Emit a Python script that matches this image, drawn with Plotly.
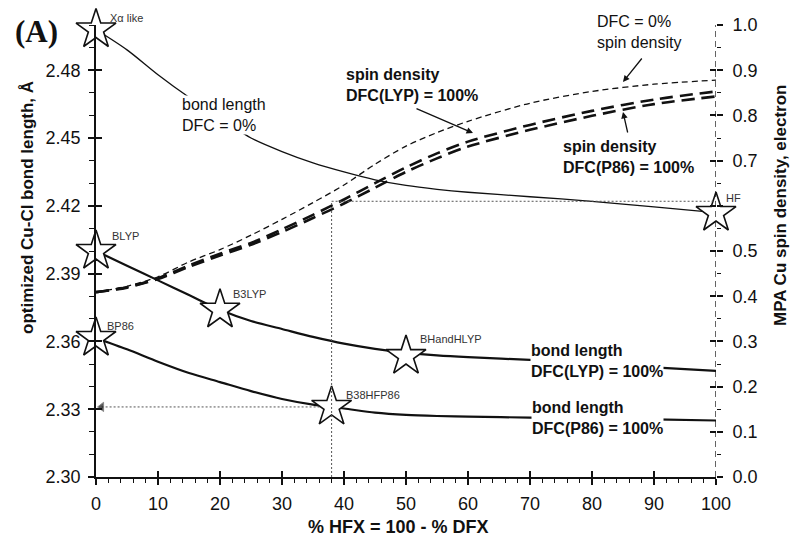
import plotly.graph_objects as go

# ---------------- data ----------------
hfx = [0, 5, 10, 15, 20, 25, 30, 35, 40, 45, 50, 55, 60, 70, 80, 90, 100]

bond_dfc0 = [2.498, 2.489, 2.478, 2.468, 2.459, 2.450, 2.444, 2.439, 2.435, 2.4315,
             2.429, 2.4273, 2.426, 2.424, 2.422, 2.4195, 2.417]
bond_lyp = [2.400, 2.3935, 2.387, 2.3805, 2.374, 2.369, 2.3655, 2.362, 2.359, 2.3567,
            2.355, 2.3538, 2.353, 2.3518, 2.350, 2.3485, 2.347]
bond_p86 = [2.3615, 2.3565, 2.351, 2.346, 2.342, 2.338, 2.3345, 2.332, 2.3303, 2.3285,
            2.3275, 2.327, 2.3267, 2.3263, 2.326, 2.3255, 2.325]

spin_dfc0 = [0.409, 0.422, 0.443, 0.476, 0.503, 0.535, 0.570, 0.607, 0.646, 0.692,
             0.732, 0.762, 0.787, 0.827, 0.853, 0.869, 0.878]
spin_lyp = [0.409, 0.420, 0.440, 0.468, 0.494, 0.518, 0.548, 0.580, 0.614, 0.650,
            0.685, 0.716, 0.742, 0.779, 0.810, 0.835, 0.853]
spin_p86 = [0.409, 0.419, 0.438, 0.465, 0.490, 0.514, 0.542, 0.573, 0.605, 0.640,
            0.675, 0.705, 0.731, 0.768, 0.799, 0.825, 0.842]

star_names = ["Xα like", "BLYP", "B3LYP", "BP86", "BHandHLYP", "B38HFP86", "HF"]
star_x = [0, 0, 20, 0, 50, 38, 100]
star_y = [2.498, 2.400, 2.374, 2.3615, 2.3535, 2.331, 2.4168]

guide_x = 38
guide_bond = 2.331
guide_spin = 0.61

left_ticks = [2.30, 2.33, 2.36, 2.39, 2.42, 2.45, 2.48]
right_ticks = [0.0, 0.1, 0.2, 0.3, 0.4, 0.5, 0.6, 0.7, 0.8, 0.9, 1.0]
right_ticktext = ["0.0", "0.1", "0.2", "0.3", "0.4", "0.5", "", "0.7", "0.8", "0.9", "1.0"]
x_ticks = [0, 10, 20, 30, 40, 50, 60, 70, 80, 90, 100]

# ---------------- figure ----------------
FONT = "Liberation Sans, Arial, sans-serif"
INK = "#111111"
L, R, T, B = 96, 77, 25, 61
PW, PH = 793 - L - R, 538 - T - B

fig = go.Figure()

# bond lengths (left axis)
fig.add_trace(go.Scatter(x=hfx, y=bond_dfc0, mode="lines", yaxis="y",
                         line=dict(color=INK, width=1.3, shape="spline", smoothing=0.8)))
fig.add_trace(go.Scatter(x=hfx, y=bond_lyp, mode="lines", yaxis="y",
                         line=dict(color=INK, width=2.2, shape="spline", smoothing=0.8)))
fig.add_trace(go.Scatter(x=hfx, y=bond_p86, mode="lines", yaxis="y",
                         line=dict(color=INK, width=2.2, shape="spline", smoothing=0.8)))

# spin densities (right axis)
fig.add_trace(go.Scatter(x=hfx, y=spin_dfc0, mode="lines", yaxis="y2",
                         line=dict(color=INK, width=1.3, dash="6px,4px", shape="spline", smoothing=0.8)))
fig.add_trace(go.Scatter(x=hfx, y=spin_lyp, mode="lines", yaxis="y2",
                         line=dict(color=INK, width=2.6, dash="13px,7px", shape="spline", smoothing=0.8)))
fig.add_trace(go.Scatter(x=hfx, y=spin_p86, mode="lines", yaxis="y2",
                         line=dict(color=INK, width=2.6, dash="13px,7px", shape="spline", smoothing=0.8)))

# dotted guide lines
fig.add_trace(go.Scatter(x=[guide_x, guide_x], y=[0, guide_spin], mode="lines", yaxis="y2",
                         line=dict(color="#555555", width=1, dash="2px,2px")))
fig.add_trace(go.Scatter(x=[guide_x, 100], y=[guide_spin, guide_spin], mode="lines", yaxis="y2",
                         line=dict(color="#555555", width=1, dash="2px,2px")))
fig.add_trace(go.Scatter(x=[guide_x, 0.9], y=[guide_bond, guide_bond], mode="lines+markers", yaxis="y",
                         line=dict(color="#555555", width=1, dash="2px,2px"),
                         marker=dict(symbol=["circle", "triangle-left"], size=[0, 8], color=INK),
                         cliponaxis=False))

# dashed right axis line
fig.add_trace(go.Scatter(x=[100, 100], y=[0, 1.0], mode="lines", yaxis="y2",
                         line=dict(color=INK, width=1.3, dash="6px,4px"), cliponaxis=False))

# stars
fig.add_trace(go.Scatter(x=star_x, y=star_y, mode="markers", yaxis="y",
                         marker=dict(symbol="star", size=30, color="white",
                                     line=dict(color=INK, width=1.6)),
                         cliponaxis=False))

# dummy traces for overlay tick axes (crossing ticks)
fig.add_trace(go.Scatter(x=[None], y=[None], xaxis="x2", yaxis="y", showlegend=False))
fig.add_trace(go.Scatter(x=[None], y=[None], xaxis="x", yaxis="y3", showlegend=False))
fig.add_trace(go.Scatter(x=[None], y=[None], xaxis="x", yaxis="y4", showlegend=False))

tickfont = dict(family=FONT, size=18, color=INK)

fig.update_layout(
    width=793, height=538,
    margin=dict(l=L, r=R, t=T, b=B),
    paper_bgcolor="white", plot_bgcolor="white",
    showlegend=False, hovermode=False,
    xaxis=dict(range=[0, 100], tickvals=x_ticks, ticks="outside", ticklen=6, tickwidth=1.5,
               tickcolor=INK, showline=True, linecolor=INK, linewidth=1.5, showgrid=False,
               zeroline=False, tickfont=tickfont, ticklabelstandoff=4,
               minor=dict(dtick=2, ticks="outside", ticklen=4, tickwidth=1, tickcolor=INK)),
    xaxis2=dict(range=[0, 100], overlaying="x", anchor="y", tickvals=x_ticks, ticks="inside",
                ticklen=6, tickwidth=1.5, tickcolor=INK, showticklabels=False, showgrid=False,
                zeroline=False, showline=False),
    yaxis=dict(range=[2.30, 2.50], tickvals=left_ticks, tickformat=".2f", ticks="outside",
               ticklen=6, tickwidth=1.5, tickcolor=INK, showline=True, linecolor=INK,
               linewidth=1.5, showgrid=False, zeroline=False, tickfont=tickfont,
               ticklabelstandoff=4,
               minor=dict(dtick=0.01, ticks="outside", ticklen=5, tickwidth=1, tickcolor=INK)),
    yaxis2=dict(range=[0, 1.0], overlaying="y", side="right", anchor="x", tickvals=right_ticks,
                ticktext=right_ticktext, ticks="outside", ticklen=6, tickwidth=1.5, tickcolor=INK,
                showline=False, showgrid=False, zeroline=False, tickfont=tickfont,
                ticklabelstandoff=6,
                minor=dict(dtick=0.05, ticks="outside", ticklen=4, tickwidth=1, tickcolor=INK)),
    yaxis3=dict(range=[2.30, 2.50], overlaying="y", side="left", anchor="x", tickvals=left_ticks,
                ticks="inside", ticklen=6, tickwidth=1.5, tickcolor=INK, showticklabels=False,
                showgrid=False, zeroline=False, showline=False),
    yaxis4=dict(range=[0, 1.0], overlaying="y", side="right", anchor="x", tickvals=right_ticks,
                ticks="inside", ticklen=6, tickwidth=1.5, tickcolor=INK, showticklabels=False,
                showgrid=False, zeroline=False, showline=False),
)


def px_x(px):
    return (px - L) / PW


def px_y(py):
    return (538 - B - py) / PH


ann = []
# star labels
star_offsets = {"Xα like": (12, 12), "BLYP": (14, 15), "B3LYP": (11, 16), "BP86": (9, 12),
                "BHandHLYP": (12, 17), "B38HFP86": (12, 12), "HF": (8, 15)}
for n, sx, sy in zip(star_names, star_x, star_y):
    dx, dy = star_offsets[n]
    ann.append(dict(x=sx, y=sy, xref="x", yref="y", text=n, showarrow=False,
                    xanchor="left", yanchor="middle", xshift=dx, yshift=dy,
                    font=dict(family=FONT, size=11, color="#333333")))


def label(px, py, txt, bold=False, bg=None):
    t = "<b>" + txt + "</b>" if bold else txt
    d = dict(x=px_x(px), y=px_y(py), xref="paper", yref="paper", text=t,
             showarrow=False, xanchor="left", yanchor="middle", align="left",
             font=dict(family=FONT, size=16, color=INK), borderpad=0)
    if bg:
        d["bgcolor"] = bg
    return d


ann.append(label(181, 115, "bond length<br>DFC = 0%", bg="white"))
ann.append(label(345, 85, "spin density<br>DFC(LYP) = 100%", bold=True))
ann.append(label(596, 32, "DFC = 0%<br>spin density"))
ann.append(label(562, 157, "spin density<br>DFC(P86) = 100%", bold=True))
ann.append(label(530, 361, "bond length<br>DFC(LYP) = 100%", bold=True, bg="white"))
ann.append(label(531, 418, "bond length<br>DFC(P86) = 100%", bold=True, bg="white"))


def arrow(hx, hy, tx, ty):
    return dict(x=px_x(hx), y=px_y(hy), xref="paper", yref="paper", text="",
                showarrow=True, ax=tx - hx, ay=ty - hy, arrowhead=2, arrowsize=1,
                arrowwidth=1.3, arrowcolor=INK, standoff=0, startstandoff=0)


ann.append(arrow(473, 133, 415, 108))
ann.append(arrow(623, 82, 643, 57))
ann.append(arrow(623, 112, 628, 134))


def title(px, py, txt, size, angle=0, family=FONT):
    return dict(x=px_x(px), y=px_y(py), xref="paper", yref="paper", text=txt,
                textangle=angle, showarrow=False, xanchor="center", yanchor="middle",
                font=dict(family=family, size=size, color=INK))


ann.append(title(36, 31, "<b>(A)</b>", 31, family="Liberation Serif, Times New Roman, serif"))
ann.append(title(27, 208, "<b>optimized Cu-Cl bond length, Å</b>", 17, angle=-90))
ann.append(title(781, 205, "<b>MPA Cu spin density, electron</b>", 17, angle=-90))
ann.append(title(398, 527, "<b>% HFX = 100 - % DFX</b>", 18))

fig.update_layout(annotations=ann)
fig.write_html("out.html", config={"displayModeBar": False},
               post_script="document.body.style.margin='0px';")
